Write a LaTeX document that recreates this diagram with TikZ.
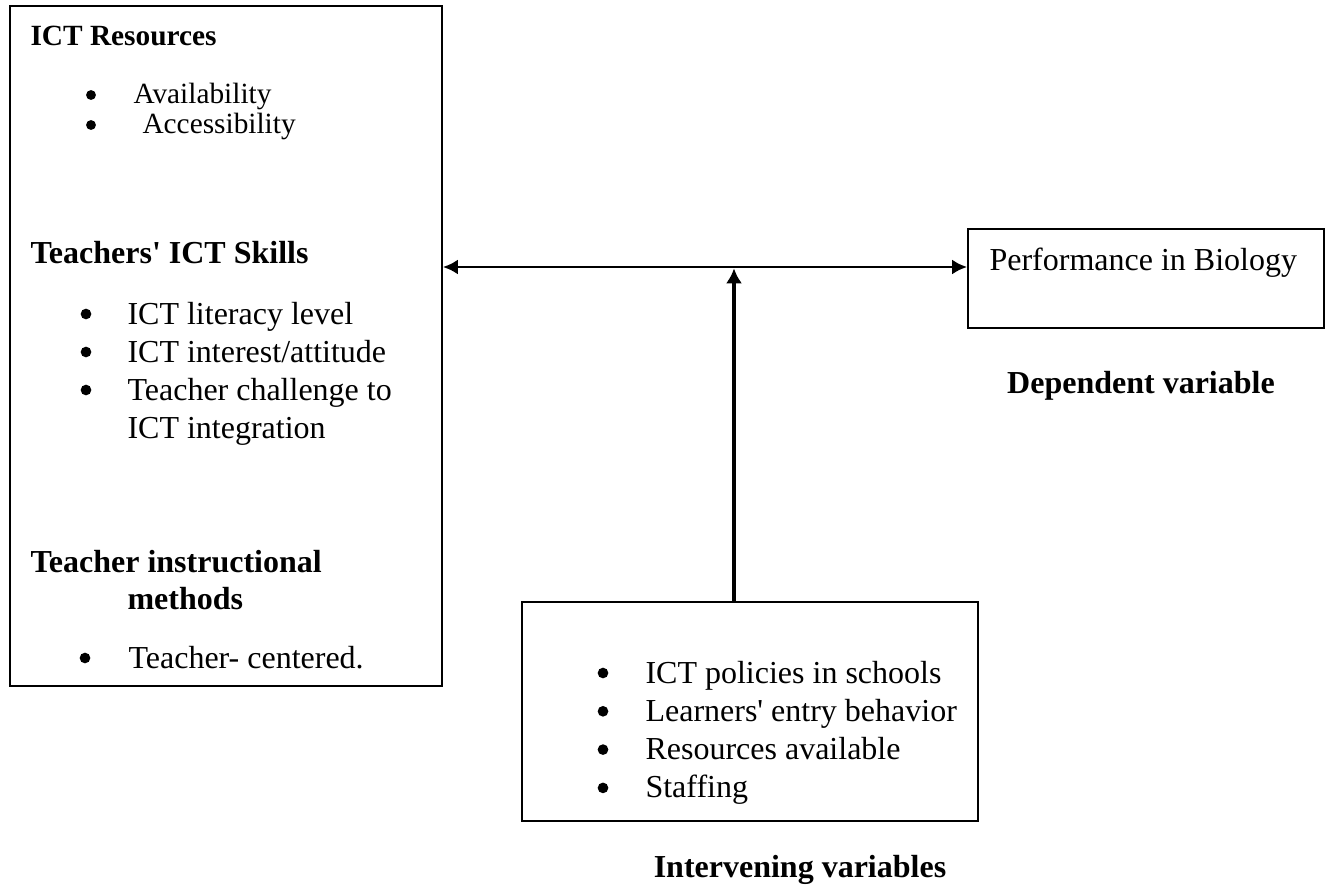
\documentclass[tikz,border=0pt]{standalone}
\usepackage{fontspec}
\setmainfont{Liberation Serif}
\usetikzlibrary{arrows.meta,fit}

\tikzset{
  box/.style={draw, line width=0.7pt, inner sep=0pt},
  item/.style={anchor=base west, inner sep=0pt, font=\fontsize{12}{14}\selectfont},
  heading/.style={item, font=\fontsize{12}{14}\selectfont\bfseries},
  dot/.style={circle, fill, inner sep=0pt, minimum size=4pt},
  link/.style={line width=1pt, arrows={Latex[length=5.6pt,width=5.6pt]-Latex[length=5.6pt,width=5.6pt]}},
  push/.style={line width=1.6pt, arrows={-Latex[length=5.6pt,width=6pt]}, shorten >=0.5pt}
}

\begin{document}
\begin{tikzpicture}[x=0.375pt, y=-0.375pt]
\useasboundingbox (0,0) rectangle (1330,886);

% the three boxes
\node[box, fit={(10,6) (442,686)}] (factors) {};
\node[box, fit={(968,229) (1324,328)}] (biology) {};
\node[box, fit={(522,602) (978,821)}] (conditions) {};

% ICT resources
\node[heading, font=\fontsize{11}{13}\selectfont\bfseries] at (30,45) (resources) {ICT Resources};
\node[dot, minimum size=3.7pt] at (91,95) (resdot1) {};
\node[item, font=\fontsize{11}{13}\selectfont] at (133,103) (res1) {Availability};
\node[dot, minimum size=3.7pt] at (91,125) (resdot2) {};
\node[item, font=\fontsize{11}{13}\selectfont] at (142,133) (res2) {Accessibility};

% teachers' skills
\node[heading] at (30,263) (skills) {Teachers\textquotesingle{} ICT Skills};
\foreach \y/\t [count=\i] in {324/{ICT literacy level}, 362/{ICT interest/attitude}, 400/{Teacher challenge to}} {
  \node[dot] at (86,{\y-10}) (skilldot\i) {};
  \node[item] at (127,\y) (skill\i) {\t};
}
\node[item] at (127,438) (skill4) {ICT integration};

% methods
\node[heading] at (30,572) (methods) {Teacher instructional};
\node[heading] at (127,609) (methods2) {methods};
\node[dot] at (85,658) (methdot) {};
\node[item] at (128,668) (meth1) {Teacher- centered.};

% dependent side
\node[item] at (989,270) (performance) {Performance in Biology};
\node[heading, anchor=base] at (1141,393) (dependent) {Dependent variable};

% intervening side
\foreach \t [count=\i] in {ICT policies in schools, Learners\textquotesingle{} entry behavior, Resources available, Staffing} {
  \node[dot] at (603,{634.7+38.3*\i}) (interdot\i) {};
  \node[item] at (645,{644.7+38.3*\i}) (inter\i) {\t};
}
\node[heading, anchor=base] at (800,877) (intervening) {Intervening variables};

% arrows
\coordinate (hub) at (734,267);
\draw[link] (hub -| factors.east) -- (hub -| biology.west);
\draw[push] (hub |- conditions.north) -- (hub);
\end{tikzpicture}
\end{document}
